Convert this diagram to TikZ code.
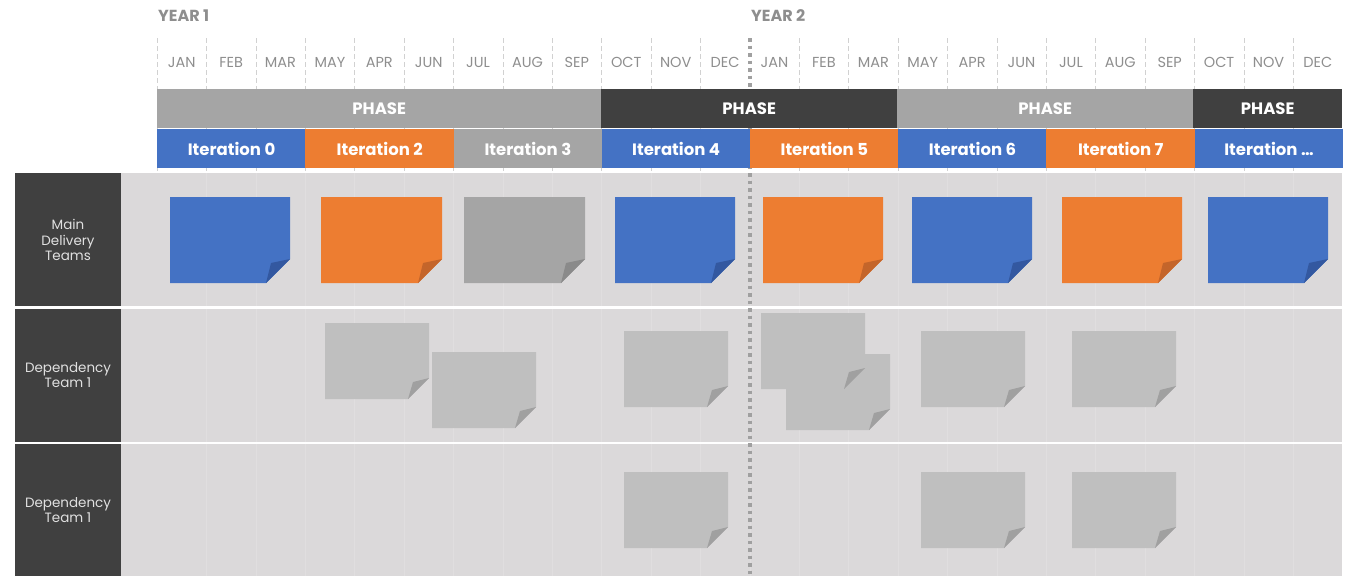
\documentclass[tikz,border=0pt]{standalone}
\usepackage{fontspec}
\setmainfont{Poppins}
\usepackage{tikz}
\usetikzlibrary{positioning}
\definecolor{itblue}{HTML}{4472C4}
\definecolor{itorange}{HTML}{ED7D31}
\definecolor{itgrey}{HTML}{A5A5A5}
\definecolor{darkbar}{HTML}{404040}
\definecolor{rowbg}{HTML}{DBD9DA}
\definecolor{notegrey}{HTML}{BFBFBF}
\definecolor{foldgrey}{HTML}{A0A0A0}
\definecolor{foldblue}{HTML}{3358A0}
\definecolor{foldorange}{HTML}{C4652A}
\definecolor{folddark}{HTML}{8A8A8A}
\definecolor{monthgrey}{HTML}{8E8E8E}
\tikzset{bar/.style = {inner sep=0pt, text=white, anchor=north west, minimum height=39pt, font=\bfseries\fontsize{16.5}{16.5}\selectfont}}

% sticky note: x1,y1,x2,y2,fill,fold colour,fold size
\newcommand{\stickynote}[7]{%
  \fill[#5] (#1,#2) -- (#3,#2) -- (#3,#4-#7) -- (#3-#7,#4) -- (#1,#4) -- cycle;
  \fill[#6] (#3-#7,#4) -- (#3-#7+5,#4-#7+4) -- (#3,#4-#7) -- cycle;}

\begin{document}
\begin{tikzpicture}[x=1pt,y=-1pt,
    month/.style={text=monthgrey,font=\fontsize{14.5}{14.5}\selectfont},
    year/.style={text=monthgrey,anchor=west,inner sep=0pt,font=\bfseries\fontsize{16}{16}\selectfont},
    team/.style={text=white!88!black,align=center,font=\fontsize{13.5}{15.5}\selectfont}]
  \def\cw{49.4}
  \useasboundingbox (0,0) rectangle (1345,576);

  % header grid
  \foreach \i in {0,...,23} {
    \ifnum\i=12\else
      \draw[black!18, dash pattern=on 5pt off 3pt] ({157+\i*\cw},38) -- ({157+\i*\cw},173);
    \fi
  }
  \foreach \mon [count=\i from 0] in {JAN,FEB,MAR,MAY,APR,JUN,JUL,AUG,SEP,OCT,NOV,DEC,JAN,FEB,MAR,MAY,APR,JUN,JUL,AUG,SEP,OCT,NOV,DEC}
    \node[month] (m\i) at ({157+(\i+0.5)*\cw},62) {\mon};
  \node[year] (yr1) at (158,16) {YEAR 1};
  \node[year] (yr2) at (751,16) {YEAR 2};

  % rows
  \foreach \top [count=\r] in {173,309,444} {
    \fill[rowbg] (121,\top) rectangle (1342,\top+133);
    \fill[darkbar] (15,\top) rectangle (121,\top+133);
    \foreach \i in {1,...,23}
      \draw[white, opacity=0.15] ({157+\i*\cw},\top) -- ({157+\i*\cw},\top+133);
  }
  \node[team] (lab1) at (68,240) {Main\\Delivery\\Teams};
  \node[team] (lab2) at (68,375) {Dependency\\Team 1};
  \node[team] (lab3) at (68,510) {Dependency\\Team 1};

  % year divider
  \draw[foldgrey, line width=3.5pt, dash pattern=on 3.5pt off 4pt] ({157+12*\cw},38) -- ({157+12*\cw},576);

  % phases
  \node[bar, fill=itgrey, minimum width=444pt] (ph1) at (157,89) {PHASE};
  \node[bar, fill=darkbar, minimum width=296pt] (ph2) at (601,89) {PHASE};
  \node[bar, fill=itgrey, minimum width=296pt] (ph3) at (897,89) {PHASE};
  \node[bar, fill=darkbar, minimum width=149pt] (ph4) at (1193,89) {PHASE};

  % iterations
  \foreach \lab/\col [count=\i from 0] in {0/itblue,2/itorange,3/itgrey,4/itblue,5/itorange,6/itblue,7/itorange,…/itblue}
    \node[bar, fill=\col, minimum width={3*\cw*1pt+0.5pt}] (it\i) at ({157+3*\i*\cw},129) {Iteration \lab};

  % main delivery notes
  \stickynote{170}{197}{290}{283}{itblue}{foldblue}{24}
  \stickynote{321}{197}{442}{283}{itorange}{foldorange}{24}
  \stickynote{464}{197}{585}{283}{itgrey}{folddark}{24}
  \stickynote{615}{197}{735}{283}{itblue}{foldblue}{24}
  \stickynote{763}{197}{883}{283}{itorange}{foldorange}{24}
  \stickynote{912}{197}{1032}{283}{itblue}{foldblue}{24}
  \stickynote{1062}{197}{1182}{283}{itorange}{foldorange}{24}
  \stickynote{1208}{197}{1328}{283}{itblue}{foldblue}{24}

  % dependency team notes
  \stickynote{325}{323}{429}{399}{notegrey}{foldgrey}{21}
  \stickynote{432}{352}{536}{428}{notegrey}{foldgrey}{21}
  \stickynote{624}{331}{728}{407}{notegrey}{foldgrey}{21}
  \stickynote{786}{354}{890}{430}{notegrey}{foldgrey}{21}
  \stickynote{761}{313}{865}{389}{notegrey}{foldgrey}{21}
  \stickynote{921}{331}{1025}{407}{notegrey}{foldgrey}{21}
  \stickynote{1072}{331}{1176}{407}{notegrey}{foldgrey}{21}
  \stickynote{624}{472}{728}{548}{notegrey}{foldgrey}{21}
  \stickynote{921}{472}{1025}{548}{notegrey}{foldgrey}{21}
  \stickynote{1072}{472}{1176}{548}{notegrey}{foldgrey}{21}
\end{tikzpicture}
\end{document}
